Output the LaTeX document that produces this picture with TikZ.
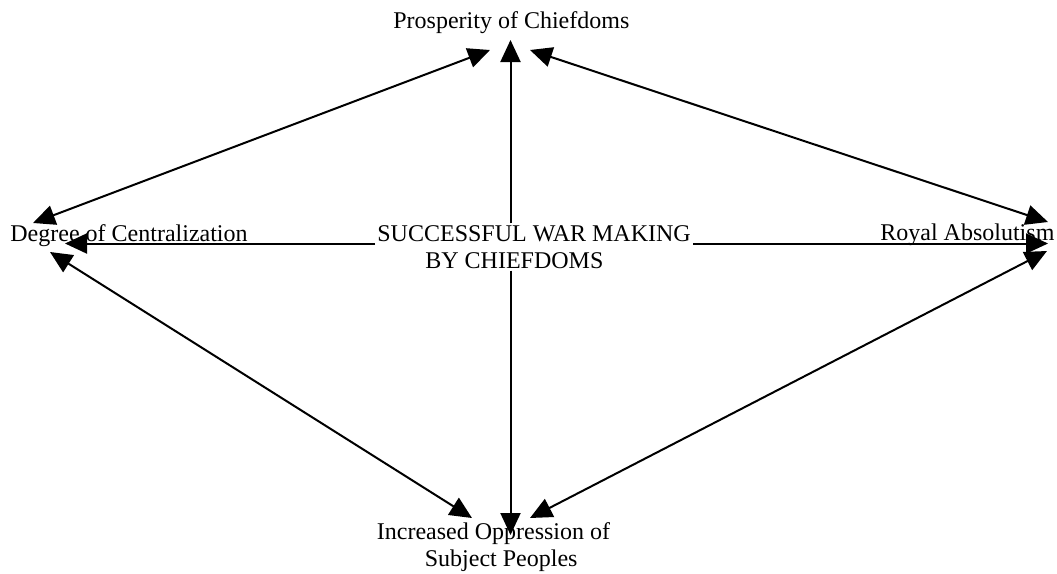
\documentclass[tikz,border=0pt]{standalone}
\usepackage{fontspec}
\setmainfont{Liberation Serif}
\usetikzlibrary{arrows.meta}
\begin{document}
\begin{tikzpicture}[x=0.5pt, y=-0.5pt,
  lbl/.style={inner sep=0pt, font=\fontsize{12pt}{13.2pt}\selectfont},
  link/.style={line width=1pt, -{Triangle[length=11pt, width=10pt]}},
  twoway/.style={line width=1pt, {Triangle[length=11pt, width=10pt]}-{Triangle[length=11pt, width=10pt]}}]
\useasboundingbox (0,0) rectangle (1057,574);

% labels around the centre (multi-line nodes sit on their last baseline)
\node[lbl, anchor=base west] (pros) at (393,28) {Prosperity of Chiefdoms};
\node[lbl, anchor=base west] (cent) at (10,241) {Degree of Centralization};
\node[lbl, anchor=base west] (roy) at (880,240) {Royal Absolutism};
\node[lbl, anchor=base west, align=left] (opp) at (376.5,566)
  {Increased Oppression of\\\hspace*{24pt}Subject Peoples};

% the central cause, boxed in white so the spokes stop at its edge
\node[lbl, anchor=base west, align=left, fill=white, inner sep=1pt] (war) at (375,268)
  {SUCCESSFUL WAR MAKING\\\hspace*{24pt}BY CHIEFDOMS};

% arrow tips at the labels
\coordinate (pT) at (510.5,40);
\coordinate (pL) at (490,50);
\coordinate (pR) at (530,50);
\coordinate (cU) at (33,223);
\coordinate (cH) at (65,243.5);
\coordinate (cD) at (50,252);
\coordinate (rU) at (1048,222);
\coordinate (rH) at (1048,243.5);
\coordinate (rD) at (1047,251);
\coordinate (oL) at (472,518);
\coordinate (oV) at (510.5,535);
\coordinate (oR) at (530,518);

% spokes from the central cause
\draw[link] (war.north -| pT) -- (pT);
\draw[link] (war.south -| oV) -- (oV);
\draw[link] (cH -| war.west) -- (cH);
\draw[link] (rH -| war.east) -- (rH);

% two-way links around the rim
\draw[twoway] (cU) -- (pL);
\draw[twoway] (pR) -- (rU);
\draw[twoway] (cD) -- (oL);
\draw[twoway] (oR) -- (rD);
\end{tikzpicture}
\end{document}
